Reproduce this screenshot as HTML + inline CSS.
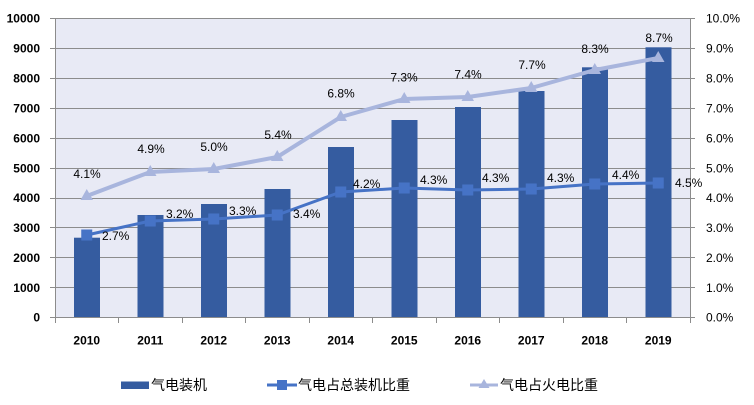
<!DOCTYPE html>
<html><head><meta charset="utf-8"><style>
html,body{margin:0;padding:0;background:#fff;}
svg{display:block;font-family:"Liberation Sans","Noto Sans CJK SC",sans-serif;}
</style></head><body>
<svg width="754" height="405" viewBox="0 0 754 405" xmlns="http://www.w3.org/2000/svg">
<rect x="55" y="18" width="635" height="299" fill="#e8eaf5"/>
<g stroke="#8c8c8c" stroke-width="1" shape-rendering="crispEdges">
<line x1="50" y1="18.5" x2="695" y2="18.5"/>
<line x1="50" y1="48.5" x2="695" y2="48.5"/>
<line x1="50" y1="78.5" x2="695" y2="78.5"/>
<line x1="50" y1="108.5" x2="695" y2="108.5"/>
<line x1="50" y1="138.5" x2="695" y2="138.5"/>
<line x1="50" y1="168.5" x2="695" y2="168.5"/>
<line x1="50" y1="198.5" x2="695" y2="198.5"/>
<line x1="50" y1="227.5" x2="695" y2="227.5"/>
<line x1="50" y1="257.5" x2="695" y2="257.5"/>
<line x1="50" y1="287.5" x2="695" y2="287.5"/>
<line x1="50" y1="317.5" x2="695" y2="317.5"/>
<line x1="55.5" y1="18" x2="55.5" y2="323"/>
<line x1="690.5" y1="18" x2="690.5" y2="318"/>
<line x1="118.5" y1="317" x2="118.5" y2="323"/>
<line x1="182.5" y1="317" x2="182.5" y2="323"/>
<line x1="245.5" y1="317" x2="245.5" y2="323"/>
<line x1="309.5" y1="317" x2="309.5" y2="323"/>
<line x1="372.5" y1="317" x2="372.5" y2="323"/>
<line x1="436.5" y1="317" x2="436.5" y2="323"/>
<line x1="499.5" y1="317" x2="499.5" y2="323"/>
<line x1="563.5" y1="317" x2="563.5" y2="323"/>
<line x1="626.5" y1="317" x2="626.5" y2="323"/>
<line x1="690.5" y1="317" x2="690.5" y2="323"/>
</g>
<g fill="#355ca0">
<rect x="74" y="237.7" width="26" height="79.3"/>
<rect x="137.5" y="215" width="26" height="102"/>
<rect x="201" y="204" width="26" height="113"/>
<rect x="264.5" y="189" width="26" height="128"/>
<rect x="328" y="147" width="26" height="170"/>
<rect x="391.5" y="120" width="26" height="197"/>
<rect x="455" y="107" width="26" height="210"/>
<rect x="518.5" y="91" width="26" height="226"/>
<rect x="582" y="67.3" width="26" height="249.7"/>
<rect x="645.5" y="47.3" width="26" height="269.7"/>
</g>
<polyline fill="none" stroke="#a8b5dd" stroke-width="4" stroke-linejoin="round" points="86.75,196 150.25,172 213.75,169 277.25,157 340.75,117 404.25,99 467.75,97 531.25,88 594.75,70 658.25,58"/>
<g fill="#a8b5dd">
<polygon points="86.75,189 93,200 80.5,200"/>
<polygon points="150.25,165 156.5,176 144,176"/>
<polygon points="213.75,162 220,173 207.5,173"/>
<polygon points="277.25,150 283.5,161 271,161"/>
<polygon points="340.75,110 347,121 334.5,121"/>
<polygon points="404.25,92 410.5,103 398,103"/>
<polygon points="467.75,90 474,101 461.5,101"/>
<polygon points="531.25,81 537.5,92 525,92"/>
<polygon points="594.75,63 601,74 588.5,74"/>
<polygon points="658.25,51 664.5,62 652,62"/>
</g>
<polyline fill="none" stroke="#4673c6" stroke-width="3" stroke-linejoin="round" points="86.75,235 150.25,221 213.75,219 277.25,215 340.75,192 404.25,188 467.75,190 531.25,189 594.75,184 658.25,183"/>
<g fill="#4673c6">
<rect x="81.25" y="229.5" width="11" height="11"/>
<rect x="144.75" y="215.5" width="11" height="11"/>
<rect x="208.25" y="213.5" width="11" height="11"/>
<rect x="271.75" y="209.5" width="11" height="11"/>
<rect x="335.25" y="186.5" width="11" height="11"/>
<rect x="398.75" y="182.5" width="11" height="11"/>
<rect x="462.25" y="184.5" width="11" height="11"/>
<rect x="525.75" y="183.5" width="11" height="11"/>
<rect x="589.25" y="178.5" width="11" height="11"/>
<rect x="652.75" y="177.5" width="11" height="11"/>
</g>
<g font-size="12" fill="#000" text-anchor="middle">
<text x="87" y="178">4.1%</text>
<text x="151" y="153">4.9%</text>
<text x="214" y="151">5.0%</text>
<text x="278" y="139">5.4%</text>
<text x="341" y="97.5">6.8%</text>
<text x="404" y="81.5">7.3%</text>
<text x="468" y="78.5">7.4%</text>
<text x="532" y="69">7.7%</text>
<text x="595" y="53">8.3%</text>
<text x="659" y="42">8.7%</text>
</g>
<g font-size="12" fill="#000">
<text x="102" y="240">2.7%</text>
<text x="166" y="218">3.2%</text>
<text x="229" y="215">3.3%</text>
<text x="293" y="218">3.4%</text>
<text x="353" y="188">4.2%</text>
<text x="420" y="184">4.3%</text>
<text x="482" y="182">4.3%</text>
<text x="547" y="182">4.3%</text>
<text x="612" y="179">4.4%</text>
<text x="675" y="187">4.5%</text>
</g>
<g font-size="12" font-weight="bold" fill="#000" text-anchor="end">
<text x="40" y="22.5">10000</text>
<text x="40" y="52.5">9000</text>
<text x="40" y="82.5">8000</text>
<text x="40" y="112.5">7000</text>
<text x="40" y="142.5">6000</text>
<text x="40" y="172.5">5000</text>
<text x="40" y="202">4000</text>
<text x="40" y="232">3000</text>
<text x="40" y="262">2000</text>
<text x="40" y="292">1000</text>
<text x="40" y="321.5">0</text>
</g>
<g font-size="12" fill="#000">
<text x="706" y="22.5">10.0%</text>
<text x="706" y="52.5">9.0%</text>
<text x="706" y="82.5">8.0%</text>
<text x="706" y="112.5">7.0%</text>
<text x="706" y="142.5">6.0%</text>
<text x="706" y="172.5">5.0%</text>
<text x="706" y="202">4.0%</text>
<text x="706" y="232">3.0%</text>
<text x="706" y="262">2.0%</text>
<text x="706" y="292">1.0%</text>
<text x="706" y="321.5">0.0%</text>
</g>
<g font-size="12" font-weight="bold" fill="#000" text-anchor="middle">
<text x="86.75" y="344.5">2010</text>
<text x="150.25" y="344.5">2011</text>
<text x="213.75" y="344.5">2012</text>
<text x="277.25" y="344.5">2013</text>
<text x="340.75" y="344.5">2014</text>
<text x="404.25" y="344.5">2015</text>
<text x="467.75" y="344.5">2016</text>
<text x="531.25" y="344.5">2017</text>
<text x="594.75" y="344.5">2018</text>
<text x="658.25" y="344.5">2019</text>
</g>
<rect x="121" y="381.5" width="28" height="7.5" fill="#355ca0"/>
<text x="151" y="390" font-size="14" fill="#000">气电装机</text>
<line x1="267" y1="385" x2="297" y2="385" stroke="#4673c6" stroke-width="3"/>
<rect x="277" y="380" width="10" height="10" fill="#4673c6"/>
<text x="298" y="390" font-size="14" fill="#000">气电占总装机比重</text>
<line x1="470" y1="385" x2="498" y2="385" stroke="#a8b5dd" stroke-width="3"/>
<polygon points="484,379 489.5,388 478.5,388" fill="#a8b5dd"/>
<text x="500" y="390" font-size="14" fill="#000">气电占火电比重</text>
</svg>
</body></html>
